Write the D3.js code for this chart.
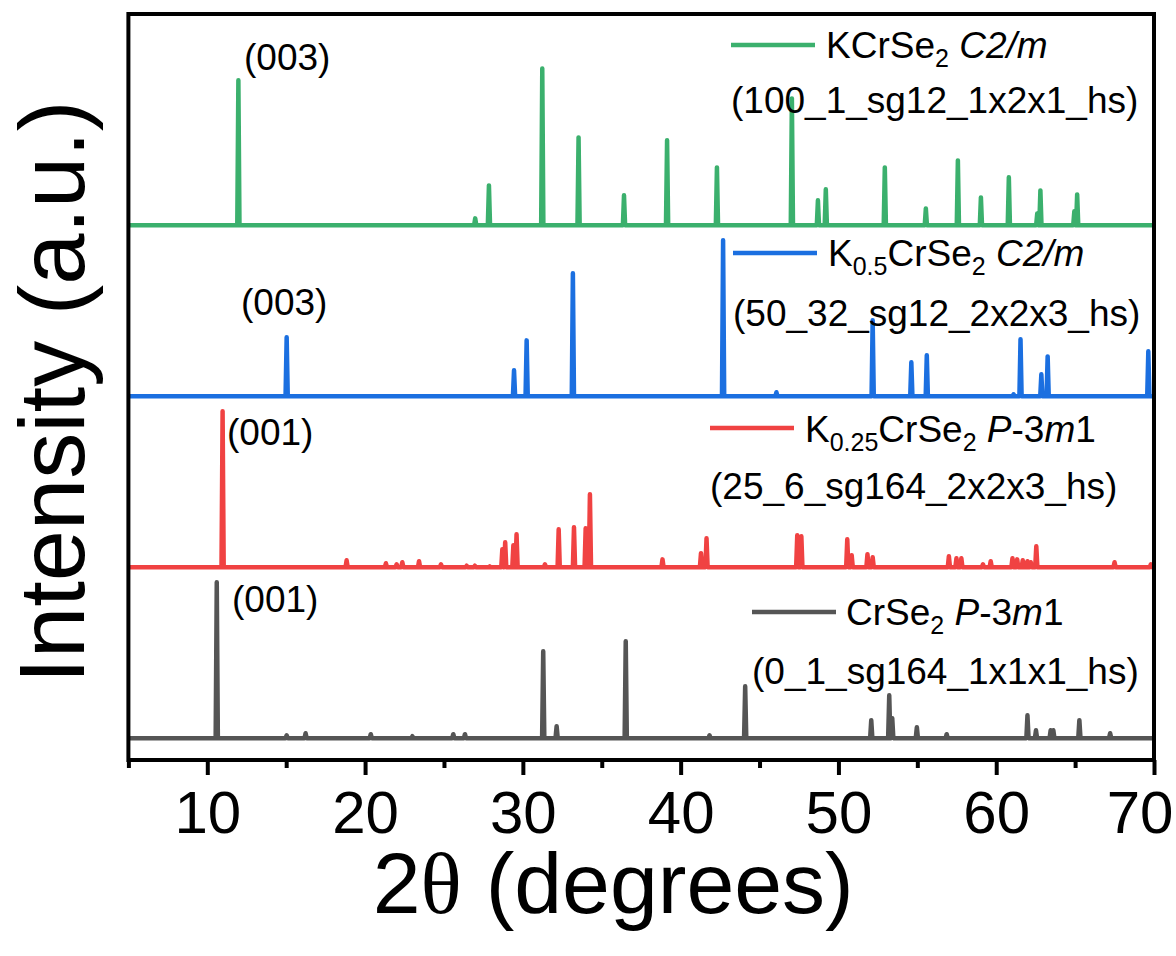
<!DOCTYPE html>
<html>
<head>
<meta charset="utf-8">
<script src="https://cdn.jsdelivr.net/npm/d3@7"></script>
<style>
  html, body { margin: 0; padding: 0; background: #fff; }
  svg { display: block; }
  text { font-family: "Liberation Sans", Arial, sans-serif; fill: #000; }
</style>
</head>
<body>
<svg id="chart" width="1176" height="956"></svg>
<script>
// ---------------- DATA ----------------
const xTicks = [10, 20, 30, 40, 50, 60, 70];
const xMinorTicks = [5, 15, 25, 35, 45, 55, 65];

// CrSe2 P-3m1 (0_1_sg164_1x1x1_hs)
const crse2Pos = [10.6, 15.03, 16.23, 20.36, 23.0, 25.59, 26.33, 31.29, 32.14, 36.52, 41.83, 44.09, 52.08, 53.22, 53.41, 54.97, 56.86, 61.98, 62.52, 63.45, 63.62, 65.27, 67.22];
const crse2Int = [100.4, 1.9, 3.2, 2.6, 1.3, 2.6, 2.6, 56, 7.7, 62.4, 1.9, 33.5, 11.6, 27.7, 12.9, 7.1, 2.6, 14.8, 5.1, 5.1, 5.1, 11.6, 3.2];

// K0.25CrSe2 P-3m1 (25_6_sg164_2x2x3_hs)
const k025Pos = [10.97, 18.83, 21.32, 22.0, 22.36, 23.42, 24.81, 26.44, 26.96, 27.9, 28.7, 28.88, 29.4, 29.6, 31.4, 32.27, 33.24, 33.98, 34.25, 38.85, 41.29, 41.64, 47.39, 47.65, 50.56, 50.84, 51.84, 52.17, 57.0, 57.48, 57.79, 59.16, 59.65, 61.03, 61.33, 61.68, 61.98, 62.19, 62.54, 67.5, 69.8];
const k025Int = [100.4, 4.5, 2.6, 1.9, 3.2, 3.9, 1.9, 1.0, 1.0, 0.6, 11.6, 16.1, 14.2, 21.2, 1.9, 24.5, 25.7, 25.1, 47.0, 5.1, 9.0, 18.7, 20.6, 19.9, 18.0, 7.7, 8.4, 6.4, 7.1, 5.8, 5.8, 1.9, 3.9, 5.8, 5.1, 4.5, 3.9, 3.2, 13.5, 3.2, 1.9];

// K0.5CrSe2 C2/m (50_32_sg12_2x2x3_hs)
const k05Pos = [15.03, 29.44, 30.24, 33.17, 42.69, 46.07, 52.17, 54.62, 55.6, 61.1, 61.54, 62.86, 63.26, 69.64];
const k05Int = [38.0, 16.7, 36.0, 79.2, 100.4, 2.6, 48.9, 21.9, 26.4, 1.3, 36.7, 14.2, 25.7, 29.0];

// KCrSe2 C2/m (100_1_sg12_1x2x1_hs)
const kcrPos = [11.97, 26.98, 27.85, 31.23, 33.53, 36.41, 39.14, 42.3, 47.05, 48.7, 49.2, 52.94, 55.54, 57.57, 59.03, 60.8, 62.6, 62.8, 64.95, 65.13];
const kcrInt = [93.3, 4.5, 25.7, 101.0, 56.6, 19.3, 54.7, 37.3, 81.7, 16.1, 23.2, 37.3, 10.9, 41.8, 18.0, 30.9, 7.7, 22.5, 9.0, 19.9];

const peakLabels = ["(001)", "(001)", "(003)", "(003)"];

// ---------------- LAYOUT / STYLE ----------------
const svg = d3.select("#chart");
svg.append("rect").attr("width", 1176).attr("height", 956).attr("fill", "#fff");

const plot = { left: 128.4, right: 1154, top: 14, bottom: 760 };
const x = d3.scaleLinear().domain([5, 70]).range([plot.left, plot.right]);
const y = d3.scaleLinear().domain([0, 480]).range([plot.bottom, plot.top]);

const offsets = [14, 124, 234, 344];
const colors = ["#555555", "#f04242", "#1b6fe0", "#3bb06d"];
const halfWidth = 0.07;

const series = [
  { pos: crse2Pos, int: crse2Int },
  { pos: k025Pos, int: k025Int },
  { pos: k05Pos, int: k05Int },
  { pos: kcrPos, int: kcrInt }
];

function buildPoints(pos, ints) {
  const pts = [[5, 0]];
  pos.forEach((p, i) => {
    pts.push([p - halfWidth, 0], [p, ints[i]], [p + halfWidth, 0]);
  });
  pts.push([70, 0]);
  return pts;
}

svg.append("clipPath").attr("id", "clip")
  .append("rect").attr("x", plot.left).attr("y", plot.top)
  .attr("width", plot.right - plot.left).attr("height", plot.bottom - plot.top);

const lineGen = (off) => d3.line().x(d => x(d[0])).y(d => y(off + d[1]));

const gLines = svg.append("g").attr("clip-path", "url(#clip)");
series.forEach((s, i) => {
  gLines.append("path")
    .datum(buildPoints(s.pos, s.int))
    .attr("d", lineGen(offsets[i]))
    .attr("fill", "none")
    .attr("stroke", colors[i])
    .attr("stroke-width", 4.5)
    .attr("stroke-linejoin", "round")
    .attr("stroke-linecap", "round");
});

// Frame
svg.append("rect")
  .attr("x", plot.left).attr("y", plot.top)
  .attr("width", plot.right - plot.left).attr("height", plot.bottom - plot.top)
  .attr("fill", "none").attr("stroke", "#000").attr("stroke-width", 4);

// X axis major
const xAxis = d3.axisBottom(x).tickValues(xTicks).tickSize(15).tickPadding(15).tickFormat(d3.format("d"));
const gx = svg.append("g").attr("transform", `translate(0,${plot.bottom})`).call(xAxis);
gx.select(".domain").remove();
gx.selectAll(".tick line").attr("stroke", "#000").attr("stroke-width", 4);
gx.selectAll(".tick text").attr("font-size", 60).attr("font-family", "Liberation Sans, Arial, sans-serif").attr("fill", "#000");
// keep the last label inside the picture
gx.selectAll(".tick text").filter(d => d === 70).attr("text-anchor", "end").attr("dx", 19);

// X axis minor
const xMinor = d3.axisBottom(x).tickValues(xMinorTicks).tickSize(8).tickFormat("");
const gxm = svg.append("g").attr("transform", `translate(0,${plot.bottom})`).call(xMinor);
gxm.select(".domain").remove();
gxm.selectAll(".tick line").attr("stroke", "#000").attr("stroke-width", 4);

// Axis titles
const xt = svg.append("text")
  .attr("x", (plot.left + plot.right) / 2 - 28).attr("y", 913)
  .attr("text-anchor", "middle").attr("font-size", 86);
xt.append("tspan").text("2");
xt.append("tspan").attr("font-family", "Liberation Serif, Times New Roman, serif").text("θ");
xt.append("tspan").text(" (degrees)");

svg.append("text")
  .attr("transform", `translate(84,${(plot.top + plot.bottom) / 2 + 5}) rotate(-90)`)
  .attr("text-anchor", "middle").attr("font-size", 92)
  .text("Intensity (a.u.)");

// Peak labels
const peakLabelPos = [[232, 612], [227, 445], [241, 315], [244, 70]];
peakLabels.forEach((t, i) => {
  svg.append("text").attr("x", peakLabelPos[i][0]).attr("y", peakLabelPos[i][1])
    .attr("font-size", 37).text(t);
});

// Legends
const legendFont = 37, subFont = 25, subDy = 9;
function legend(lx, ly, tx, tb, l2b, parts, line2, color) {
  svg.append("line").attr("x1", lx).attr("x2", lx + 84).attr("y1", ly).attr("y2", ly)
    .attr("stroke", color).attr("stroke-width", 4.5);
  const t = svg.append("text").attr("x", tx).attr("y", tb).attr("font-size", legendFont);
  parts.forEach(p => {
    const ts = t.append("tspan").text(p.t);
    if (p.sub) ts.attr("font-size", subFont).attr("dy", subDy);
    if (p.after) ts.attr("dy", -subDy);
    if (p.it) ts.attr("font-style", "italic");
  });
  svg.append("text").attr("x", lx).attr("y", l2b).attr("font-size", legendFont).text(line2);
}

legend(731, 45, 826, 58, 113,
  [{ t: "KCrSe" }, { t: "2", sub: true }, { t: " ", after: true }, { t: "C2/m", it: true }],
  "(100_1_sg12_1x2x1_hs)", colors[3]);
legend(733, 253, 828, 266, 326,
  [{ t: "K" }, { t: "0.5", sub: true }, { t: "CrSe", after: true }, { t: "2", sub: true }, { t: " ", after: true }, { t: "C2/m", it: true }],
  "(50_32_sg12_2x2x3_hs)", colors[2]);
legend(710, 428, 805, 442, 499,
  [{ t: "K" }, { t: "0.25", sub: true }, { t: "CrSe", after: true }, { t: "2", sub: true }, { t: " ", after: true }, { t: "P", it: true }, { t: "-3" }, { t: "m", it: true }, { t: "1" }],
  "(25_6_sg164_2x2x3_hs)", colors[1]);
legend(752, 612, 846, 625, 684,
  [{ t: "CrSe" }, { t: "2", sub: true }, { t: " ", after: true }, { t: "P", it: true }, { t: "-3" }, { t: "m", it: true }, { t: "1" }],
  "(0_1_sg164_1x1x1_hs)", colors[0]);
</script>
</body>
</html>
